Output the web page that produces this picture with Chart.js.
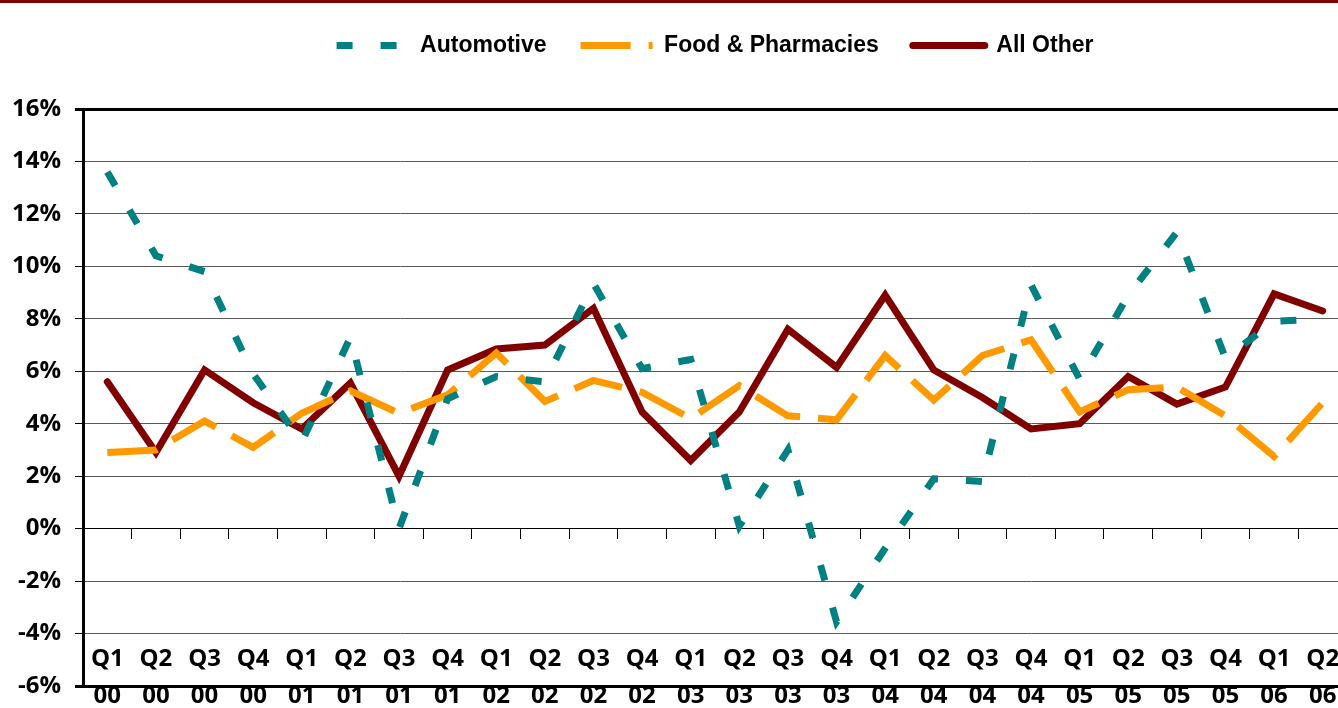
<!DOCTYPE html>
<html>
<head>
<meta charset="utf-8">
<script src="https://cdn.jsdelivr.net/npm/chart.js@4/dist/chart.umd.min.js"></script>
<style>
    body { margin: 0; overflow: hidden; background: #fff; }
    #topBar { position: absolute; left: 0; top: 0; width: 100%; height: 3px; background: #800000; }
    #wrap { position: absolute; left: 0; top: 0; }
</style>
</head>
<body>
<div id="wrap"><canvas id="growthChart" width="1350" height="708"></canvas></div>
<div id="topBar"></div>
<script>
// quarter / year tick labels
const quarters = ["Q1", "Q2", "Q3", "Q4", "Q1", "Q2", "Q3", "Q4", "Q1", "Q2", "Q3", "Q4", "Q1",
    "Q2", "Q3", "Q4", "Q1", "Q2", "Q3", "Q4", "Q1", "Q2", "Q3", "Q4", "Q1", "Q2"];
const years = ["00", "00", "00", "00", "01", "01", "01", "01", "02", "02", "02", "02", "03",
    "03", "03", "03", "04", "04", "04", "04", "05", "05", "05", "05", "06", "06"];

// growth, percent
const automotive = [13.6, 10.4, 9.8, 5.9, 3.3, 7.3, 0.0, 4.95, 5.8, 5.6, 9.35, 6.1, 6.45,
    0.1, 3.0, -3.55, -0.75, 1.9, 1.8, 9.3, 5.7, 8.9, 11.3, 6.5, 7.9, 8.0];
const foodPharmacies = [2.9, 3.0, 4.1, 3.1, 4.4, 5.25, 4.4, 5.1, 6.7, 4.85, 5.65, 5.2, 4.2,
    5.45, 4.3, 4.15, 6.6, 4.9, 6.6, 7.2, 4.45, 5.3, 5.4, 4.3, 2.75, 4.8];
const allOther = [5.6, 2.9, 6.05, 4.8, 3.8, 5.55, 2.0, 6.05, 6.85, 7.0, 8.4, 4.45, 2.6,
    4.45, 7.6, 6.15, 8.9, 6.05, 5.0, 3.8, 4.0, 5.8, 4.75, 5.4, 8.95, 8.3];

const labels = quarters.map((q, i) => [q, years[i]]);

const tickFont = { family: "'Open Sans', 'DejaVu Sans', sans-serif", size: 24, weight: "bold" };

// legend entries drawn as short line samples with the dataset's own dash
function lineLegend(chart) {
    return chart.data.datasets.map((ds, i) => ({
        text: ds.label,
        fillStyle: ds.borderColor,
        strokeStyle: ds.borderColor,
        lineWidth: ds.borderWidth,
        lineDash: ds.borderDash || [],
        lineCap: ds.borderCapStyle,
        pointStyle: "line",
        fontColor: "#000",
        hidden: false,
        datasetIndex: i
    }));
}

let growthCtx = document.getElementById("growthChart").getContext("2d");
let growthChart = new Chart(growthCtx, {
    type: "line",
    data: {
        labels: labels,
        datasets: [
            {
                label: "Automotive",
                data: automotive,
                borderColor: "#008080",
                backgroundColor: "#008080",
                borderWidth: 7,
                borderDash: [16, 28],
                borderCapStyle: "butt"
            },
            {
                label: "Food & Pharmacies",
                data: foodPharmacies,
                borderColor: "#FF9900",
                backgroundColor: "#FF9900",
                borderWidth: 7,
                borderDash: [50, 18],
                borderCapStyle: "butt"
            },
            {
                label: "All Other",
                data: allOther,
                borderColor: "#800000",
                backgroundColor: "#800000",
                borderWidth: 7,
                borderCapStyle: "round"
            }
        ]
    },
    options: {
        responsive: false,
        animation: false,
        layout: {
            padding: { left: 0, right: 3, top: 0, bottom: 14 }
        },
        elements: {
            point: { radius: 0, hoverRadius: 0 },
            line: { tension: 0 }
        },
        plugins: {
            tooltip: { enabled: false },
            legend: {
                position: "top",
                fullSize: false,
                labels: {
                    usePointStyle: true,
                    pointStyleWidth: 72,
                    padding: 34,
                    color: "#000",
                    generateLabels: lineLegend,
                    font: { family: "'Liberation Sans', Arial, sans-serif", size: 23, weight: "bold" }
                }
            },
            // empty spacer between legend and plot
            title: {
                display: true,
                text: "",
                position: "top",
                fullSize: false,
                weight: 500,
                padding: { top: 0, bottom: 32 },
                font: { size: 10, lineHeight: 1 }
            }
        },
        scales: {
            x: {
                type: "category",
                offset: true,
                grid: { display: false },
                border: { display: true, color: "#000", width: 3 },
                ticks: { display: false }
            },
            xTicks: {
                type: "category",
                position: { y: -6 },
                offset: true,
                grid: { display: false },
                border: { display: false },
                ticks: {
                    autoSkip: false,
                    maxRotation: 0,
                    minRotation: 0,
                    padding: -53,
                    color: "#000",
                    font: Object.assign({}, tickFont, { lineHeight: 1.54 })
                }
            },
            xZero: {
                type: "category",
                position: { y: 0 },
                offset: true,
                grid: {
                    display: true,
                    offset: true,
                    drawOnChartArea: false,
                    drawTicks: true,
                    tickLength: 10,
                    color: "#000",
                    lineWidth: 1
                },
                border: { display: true, color: "#000", width: 1 },
                ticks: { display: false }
            },
            y: {
                min: -6,
                max: 16,
                ticks: {
                    stepSize: 2,
                    padding: 14,
                    color: "#000",
                    font: tickFont,
                    callback: v => v + "%"
                },
                grid: {
                    tickLength: 8,
                    tickColor: "#000",
                    color: ctx => {
                        const v = ctx.tick ? ctx.tick.value : null;
                        if (v === 16 || v === -6 || v === 0) return "#000";
                        return "#5a5a5a";
                    },
                    lineWidth: ctx => {
                        const v = ctx.tick ? ctx.tick.value : null;
                        return (v === 16 || v === -6) ? 3 : 1;
                    }
                },
                border: { display: true, color: "#000", width: 3 },
                afterFit: scale => {
                    scale.width = 83;
                    scale.paddingBottom = 0;
                }
            }
        }
    }
});
</script>
</body>
</html>
